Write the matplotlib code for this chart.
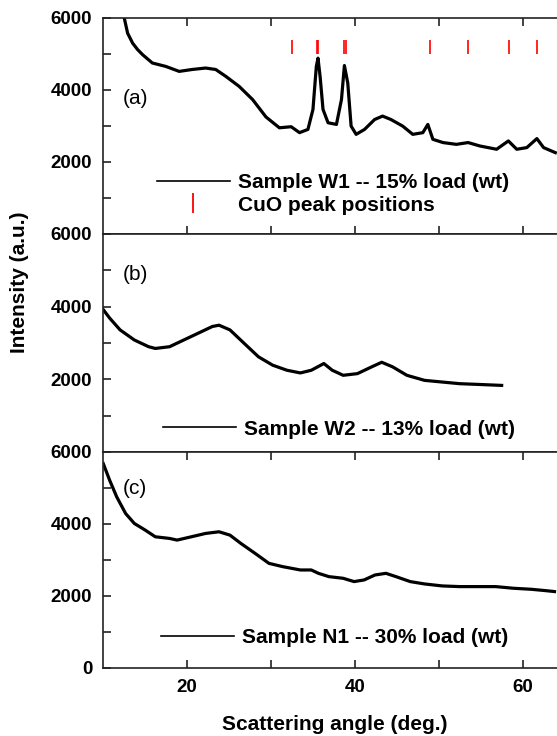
import matplotlib
matplotlib.use('Agg')
import matplotlib.pyplot as plt
from matplotlib.lines import Line2D

plt.rcParams['font.family'] = ['Liberation Sans', 'DejaVu Sans']

# W1 -- 15% load
angle_w1 = [11.9, 12.5, 12.9, 13.5, 14.1, 14.7, 15.85, 17.45, 19.05, 20.6, 22.2, 23.4,
            24.6, 26.2, 27.8, 29.4, 31.0, 32.4, 33.4, 34.4, 35.0, 35.4, 35.6,
            35.85, 36.2, 36.8, 37.8, 38.4, 38.75, 39.15, 39.55, 40.15, 41.15,
            42.35, 43.3, 44.3, 45.7, 46.9, 48.1, 48.7, 49.3, 50.5, 52.1, 53.5,
            54.9, 56.9, 58.3, 59.3, 60.5, 61.7, 62.5, 63.9]
int_w1 = [6500, 6000, 5577, 5300, 5120, 4978, 4750, 4655, 4517, 4570, 4610, 4570,
          4380, 4100, 3735, 3250, 2950, 2980, 2815, 2905, 3460, 4650, 4885,
          4380, 3460, 3090, 3044, 3735, 4680, 4195, 2997, 2768, 2905,
          3180, 3275, 3180, 2997, 2768, 2815, 3044, 2630, 2540, 2490, 2540,
          2445, 2354, 2585, 2354, 2400, 2650, 2400, 2260]

# W2 -- 13% load
angle_w2 = [10.0, 10.76, 12.0, 13.7, 15.4, 16.2, 17.9, 19.6, 21.3, 23.0, 23.8,
            25.1, 26.8, 28.5, 30.2, 31.9, 33.5, 34.8, 36.3, 37.3, 38.6, 40.3,
            42.0, 43.2, 44.5, 46.2, 48.3, 50.4, 52.5, 54.6, 57.5]
int_w2 = [3917, 3685, 3361, 3083, 2898, 2850, 2898, 3083, 3268, 3454, 3490,
          3361, 2990, 2620, 2389, 2250, 2176, 2250, 2435, 2250, 2111, 2157,
          2343, 2470, 2343, 2111, 1972, 1926, 1880, 1861, 1833]

# N1 -- 30% load
angle_n1 = [10.0, 10.76, 11.6, 12.66, 13.7, 15.0, 16.2, 17.9, 18.8, 20.5, 22.2,
            23.8, 25.1, 26.4, 28.1, 29.75, 31.4, 33.5, 34.8, 35.65, 36.9, 38.6,
            39.9, 41.1, 42.4, 43.7, 44.9, 46.6, 48.3, 50.4, 52.5, 54.6, 56.8,
            58.9, 61.0, 62.7, 63.8]
int_n1 = [5676, 5214, 4753, 4292, 4015, 3830, 3645, 3599, 3553, 3645, 3738,
          3784, 3691, 3461, 3184, 2907, 2815, 2723, 2723, 2630, 2538, 2492,
          2400, 2446, 2584, 2630, 2538, 2400, 2335, 2280, 2261, 2261, 2261,
          2215, 2187, 2150, 2123]

cuo_peaks = [32.5, 35.45, 35.6, 38.7, 38.95, 48.9, 53.5, 58.4, 61.7]

labels = ['Sample W1 -- 15% load (wt)', 'Sample W2 -- 13% load (wt)',
          'Sample N1 -- 30% load (wt)']
panel_tags = ['(a)', '(b)', '(c)']

fig = plt.figure(figsize=(5.57, 7.36), dpi=100)

left = 103.3 / 557
width = 1 - left
boxes = [(234, 216), (452, 218), (668, 216)]  # bottom px, height px

axes = []
for bottom_px, h_px in boxes:
    ax = fig.add_axes([left, (736 - bottom_px) / 736, width, h_px / 736])
    axes.append(ax)

series = [(angle_w1, int_w1), (angle_w2, int_w2), (angle_n1, int_n1)]
legend_pos = [(0.118, 0.185), (0.131, 0.105), (0.128, 0.140)]
tag_y = [0.625, 0.812, 0.833]

for i, ax in enumerate(axes):
    x, y = series[i]
    ax.plot(x, y, color='black', lw=2.3, solid_joinstyle='round')
    ax.set_xlim(10, 64.1)
    ax.set_ylim(0, 6000)

    for s in ['left', 'top', 'bottom']:
        ax.spines[s].set_linewidth(1.2)
        ax.spines[s].set_color('#222222')
    ax.spines['right'].set_visible(False)

    ax.set_yticks(range(0, 7000, 1000))
    ylabs = []
    for v in range(0, 7000, 1000):
        if v % 2000 == 0 and (v > 0 or i == 2):
            ylabs.append(str(v))
        else:
            ylabs.append('')
    ax.set_yticklabels(ylabs, fontsize=13.5, fontweight='bold')

    ax.set_xticks([20, 30, 40, 50, 60])
    if i == 2:
        ax.set_xticklabels(['20', '', '40', '', '60'], fontsize=13.5, fontweight='bold')
    else:
        ax.set_xticklabels([])

    ax.tick_params(axis='y', direction='in', length=6, width=1.2, pad=8,
                   color='#222222', right=False)
    if i == 1:
        ax.tick_params(axis='x', bottom=False, top=False, labelbottom=False)
    else:
        ax.tick_params(axis='x', direction='in', length=5.5, width=1.2, pad=8,
                       color='#222222', top=True, bottom=True,
                       labelbottom=(i == 2))

    ax.text(0.07, tag_y[i], panel_tags[i], transform=ax.transAxes,
            fontsize=15, ha='center', va='center')

    handles = [Line2D([], [], color='black', lw=1.2)]
    names = [labels[i]]
    if i == 0:
        ax.vlines(cuo_peaks, 5000, 5400, color='red', lw=1.2)
        handles.append(Line2D([], [], color='red', marker='|', linestyle='none',
                              markersize=14, markeredgewidth=1.3))
        names.append('CuO peak positions')
    ax.legend(handles, names, loc='center left', bbox_to_anchor=legend_pos[i],
              frameon=False, borderpad=0, borderaxespad=0, handlelength=3.5,
              handletextpad=0.38, labelspacing=0.15,
              prop={'size': 15, 'weight': 'bold'})

fig.text(20 / 557, 1 - 282 / 736, 'Intensity (a.u.)', rotation=90,
         fontsize=15, fontweight='bold', ha='center', va='center')
fig.text(335 / 557, 1 - 725 / 736, 'Scattering angle (deg.)',
         fontsize=15, fontweight='bold', ha='center', va='center')

fig.savefig('out.png', dpi=100)
